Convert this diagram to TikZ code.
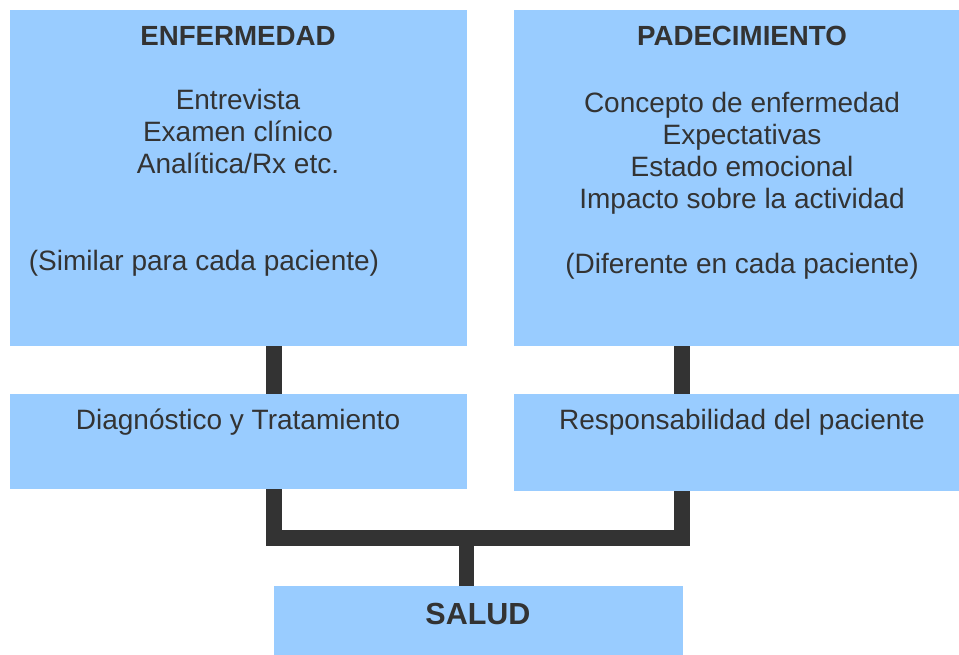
\documentclass[tikz,border=0pt]{standalone}
\usepackage{fontspec}
\setmainfont{Liberation Sans}
\definecolor{boxblue}{HTML}{99CCFF}
\definecolor{ink}{HTML}{333333}
\begin{document}
\begin{tikzpicture}[x=1pt,y=-1pt,
  box/.style={fill=boxblue, draw=none, inner sep=0pt, outer sep=0pt, anchor=north west},
  lbl/.style={anchor=base, text=ink, inner sep=0pt, font=\fontsize{28}{32}\selectfont},
  ttl/.style={anchor=base, text=ink, inner sep=0pt, font=\fontsize{27.7}{32}\selectfont\bfseries},
  conn/.style={draw=ink, line width=15.5pt, line join=miter}]
\useasboundingbox (0,0) rectangle (959,655);
% boxes
\node[box, minimum width=457pt, minimum height=336pt] (e) at (10,10) {};
\node[box, minimum width=445pt, minimum height=336pt] (p) at (514,10) {};
\node[box, minimum width=457pt, minimum height=95pt] (d) at (10,394) {};
\node[box, minimum width=445pt, minimum height=97pt] (r) at (514,394) {};
\node[box, minimum width=409pt, minimum height=69pt] (s) at (274,586) {};
% connector junctions
\coordinate (jl) at (274,538);
\coordinate (jr) at (682,538);
\coordinate (jc) at (466.5,538);
\draw[conn] (e.south -| jl) -- (d.north -| jl);
\draw[conn] (p.south -| jr) -- (r.north -| jr);
\draw[conn] (d.south -| jl) -- (jl) -- (jr) -- (r.south -| jr);
\draw[conn] (jc) -- (s.north -| jc);
% texts left
\node[ttl] (t1) at (238,46) {ENFERMEDAD};
\node[lbl] (t2) at (238,110) {Entrevista};
\node[lbl] (t3) at (238,142) {Examen clínico};
\node[lbl] (t4) at (238,174) {Analítica/Rx etc.};
\node[lbl] (t5) at (204,271) {(Similar para cada paciente)};
% texts right
\node[ttl] (u1) at (742,46) {PADECIMIENTO};
\node[lbl] (u2) at (742,113) {Concepto de enfermedad};
\node[lbl] (u3) at (742,145) {Expectativas};
\node[lbl] (u4) at (742,177) {Estado emocional};
\node[lbl] (u5) at (742,209) {Impacto sobre la actividad};
\node[lbl] (u6) at (742,273) {(Diferente en cada paciente)};
% lower texts
\node[lbl] (v1) at (238,429) {Diagnóstico y Tratamiento};
\node[lbl] (v2) at (742,429) {Responsabilidad del paciente};
\node[ttl, font=\fontsize{30.5}{34}\selectfont\bfseries] (v3) at (478,624) {SALUD};
\end{tikzpicture}
\end{document}
